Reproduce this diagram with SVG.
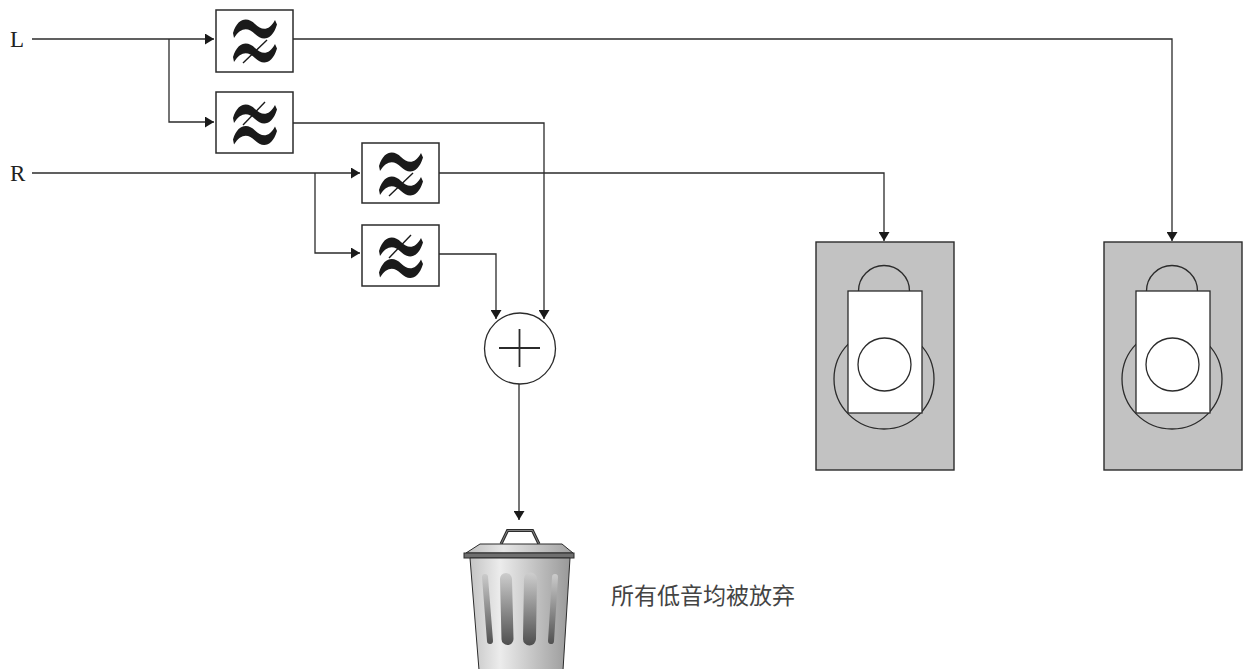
<svg xmlns="http://www.w3.org/2000/svg" width="1243" height="669" viewBox="0 0 1243 669">
<style>
.ln{fill:none;stroke:#2b2b2b;stroke-width:1.3}
.box{fill:#fff;stroke:#2b2b2b;stroke-width:1.5}
.til{fill:#1a1a1a;stroke:none}
.sl{stroke:#1a1a1a;stroke-width:1.4}
.spk{fill:#c2c2c2;stroke:#2b2b2b;stroke-width:1.4}
.wt{fill:#fff;stroke:#2b2b2b;stroke-width:1.3}
.lbl{font-family:"Liberation Serif","Times New Roman",serif;font-size:23px;fill:#222}
.cjk{font-family:"Noto Sans CJK SC","Noto Sans CJK TC",sans-serif;font-size:23px;fill:#444}
</style>
<defs>
<marker id="arr" viewBox="0 0 9 11" refX="9" refY="5.5" markerWidth="9" markerHeight="11" markerUnits="userSpaceOnUse" orient="auto">
<path d="M0,0 L9,5.5 L0,11 z" fill="#1a1a1a"/>
</marker>
<path id="tl" d="M-22,2 C-17,-14 -7,-14 0,-7 C7,0 14,0 20,-11 L22,-6.5 C17,10 7,10 0,3 C-7,-4 -14,-4 -21,7 Z"/>
<linearGradient id="body" x1="0" y1="0" x2="1" y2="0">
<stop offset="0" stop-color="#c4c4c4"/>
<stop offset="0.3" stop-color="#ececec"/>
<stop offset="1" stop-color="#999"/>
</linearGradient>
<linearGradient id="lid" x1="0" y1="0" x2="1" y2="0">
<stop offset="0" stop-color="#bdbdbd"/>
<stop offset="0.35" stop-color="#e6e6e6"/>
<stop offset="1" stop-color="#a0a0a0"/>
</linearGradient>
<linearGradient id="slot" gradientUnits="userSpaceOnUse" x1="0" y1="570" x2="0" y2="648">
<stop offset="0" stop-color="#d2d2d2"/>
<stop offset="1" stop-color="#4a4a4a"/>
</linearGradient>
</defs>

<g id="connectors">
<path class="ln" d="M32,39 H214" marker-end="url(#arr)"/>
<path class="ln" d="M169,39 V122 H214" marker-end="url(#arr)"/>
<path class="ln" d="M32,173 H360" marker-end="url(#arr)"/>
<path class="ln" d="M315,173 V253 H360" marker-end="url(#arr)"/>
<path class="ln" d="M293,39 H1172 V241" marker-end="url(#arr)"/>
<path class="ln" d="M293,123 H544 V319" marker-end="url(#arr)"/>
<path class="ln" d="M439,173 H884 V241" marker-end="url(#arr)"/>
<path class="ln" d="M439,254 H496 V319" marker-end="url(#arr)"/>
<path class="ln" d="M519,383 V520" marker-end="url(#arr)"/>
</g>

<g id="label-L"><text class="lbl" x="10" y="46.5">L</text></g>
<g id="label-R"><text class="lbl" x="10" y="180.5">R</text></g>

<g id="filter-L-high">
<rect class="box" x="216" y="10" width="77" height="62"/>
<use href="#tl" class="til" x="255" y="31"/>
<use href="#tl" class="til" x="255" y="55"/>
<line class="sl" x1="243" y1="63" x2="267" y2="40"/>
</g>
<g id="filter-L-low">
<rect class="box" x="216" y="92" width="77" height="61"/>
<use href="#tl" class="til" x="255" y="116"/>
<use href="#tl" class="til" x="255" y="137.5"/>
<line class="sl" x1="243" y1="125" x2="265" y2="102"/>
</g>
<g id="filter-R-high">
<rect class="box" x="362" y="143" width="77" height="60"/>
<use href="#tl" class="til" x="401" y="164"/>
<use href="#tl" class="til" x="401" y="188"/>
<line class="sl" x1="389" y1="196" x2="413" y2="173"/>
</g>
<g id="filter-R-low">
<rect class="box" x="362" y="225" width="77" height="61"/>
<use href="#tl" class="til" x="401" y="249"/>
<use href="#tl" class="til" x="401" y="270.5"/>
<line class="sl" x1="389" y1="258" x2="411" y2="235"/>
</g>

<g id="sum">
<circle class="wt" cx="520" cy="348.5" r="35.5"/>
<line class="ln" x1="499" y1="348" x2="540" y2="348" style="stroke-width:1.8"/>
<line class="ln" x1="519.5" y1="329" x2="519.5" y2="367" style="stroke-width:1.8"/>
</g>

<g id="speaker-right-1">
<rect class="spk" x="816" y="242" width="138" height="228"/>
<circle cx="884" cy="379" r="50" fill="none" stroke="#2b2b2b" stroke-width="1.3"/>
<path d="M858.5,291 A25.5,25.5 0 0 1 909.5,291" fill="none" stroke="#2b2b2b" stroke-width="1.3"/>
<rect class="wt" x="848" y="291" width="74" height="122"/>
<circle class="wt" cx="884.5" cy="364.5" r="26.5"/>
</g>
<g id="speaker-right-2" transform="translate(288,0)">
<rect class="spk" x="816" y="242" width="138" height="228"/>
<circle cx="884" cy="379" r="50" fill="none" stroke="#2b2b2b" stroke-width="1.3"/>
<path d="M858.5,291 A25.5,25.5 0 0 1 909.5,291" fill="none" stroke="#2b2b2b" stroke-width="1.3"/>
<rect class="wt" x="848" y="291" width="74" height="122"/>
<circle class="wt" cx="884.5" cy="364.5" r="26.5"/>
</g>

<g id="trash">
<path d="M501,544 L507.5,530.5 L532.5,530.5 L539,544" fill="none" stroke="#2b2b2b" stroke-width="3"/>
<path d="M501,544 L507.5,530.5 L532.5,530.5 L539,544" fill="none" stroke="#999" stroke-width="0.8"/>
<path d="M480,544 L562,544 L573,553 L466,553 Z" fill="url(#lid)" stroke="#2b2b2b" stroke-width="1"/>
<rect x="464" y="553" width="110" height="5" fill="#6f6f6f" stroke="#2b2b2b" stroke-width="1"/>
<path d="M470,558 L570,558 L563,670 L479,670 Z" fill="url(#body)" stroke="#2b2b2b" stroke-width="1"/>
<g stroke="url(#slot)" stroke-linecap="round" fill="none">
<line x1="485" y1="577" x2="490" y2="641" stroke-width="6"/>
<line x1="506" y1="579" x2="507.5" y2="639" stroke-width="12"/>
<line x1="530.5" y1="579" x2="529.5" y2="639" stroke-width="13"/>
<line x1="555" y1="577" x2="551" y2="641" stroke-width="6"/>
</g>
</g>

<g id="caption"><text class="cjk" x="611" y="604">所有低音均被放弃</text></g>
</svg>
